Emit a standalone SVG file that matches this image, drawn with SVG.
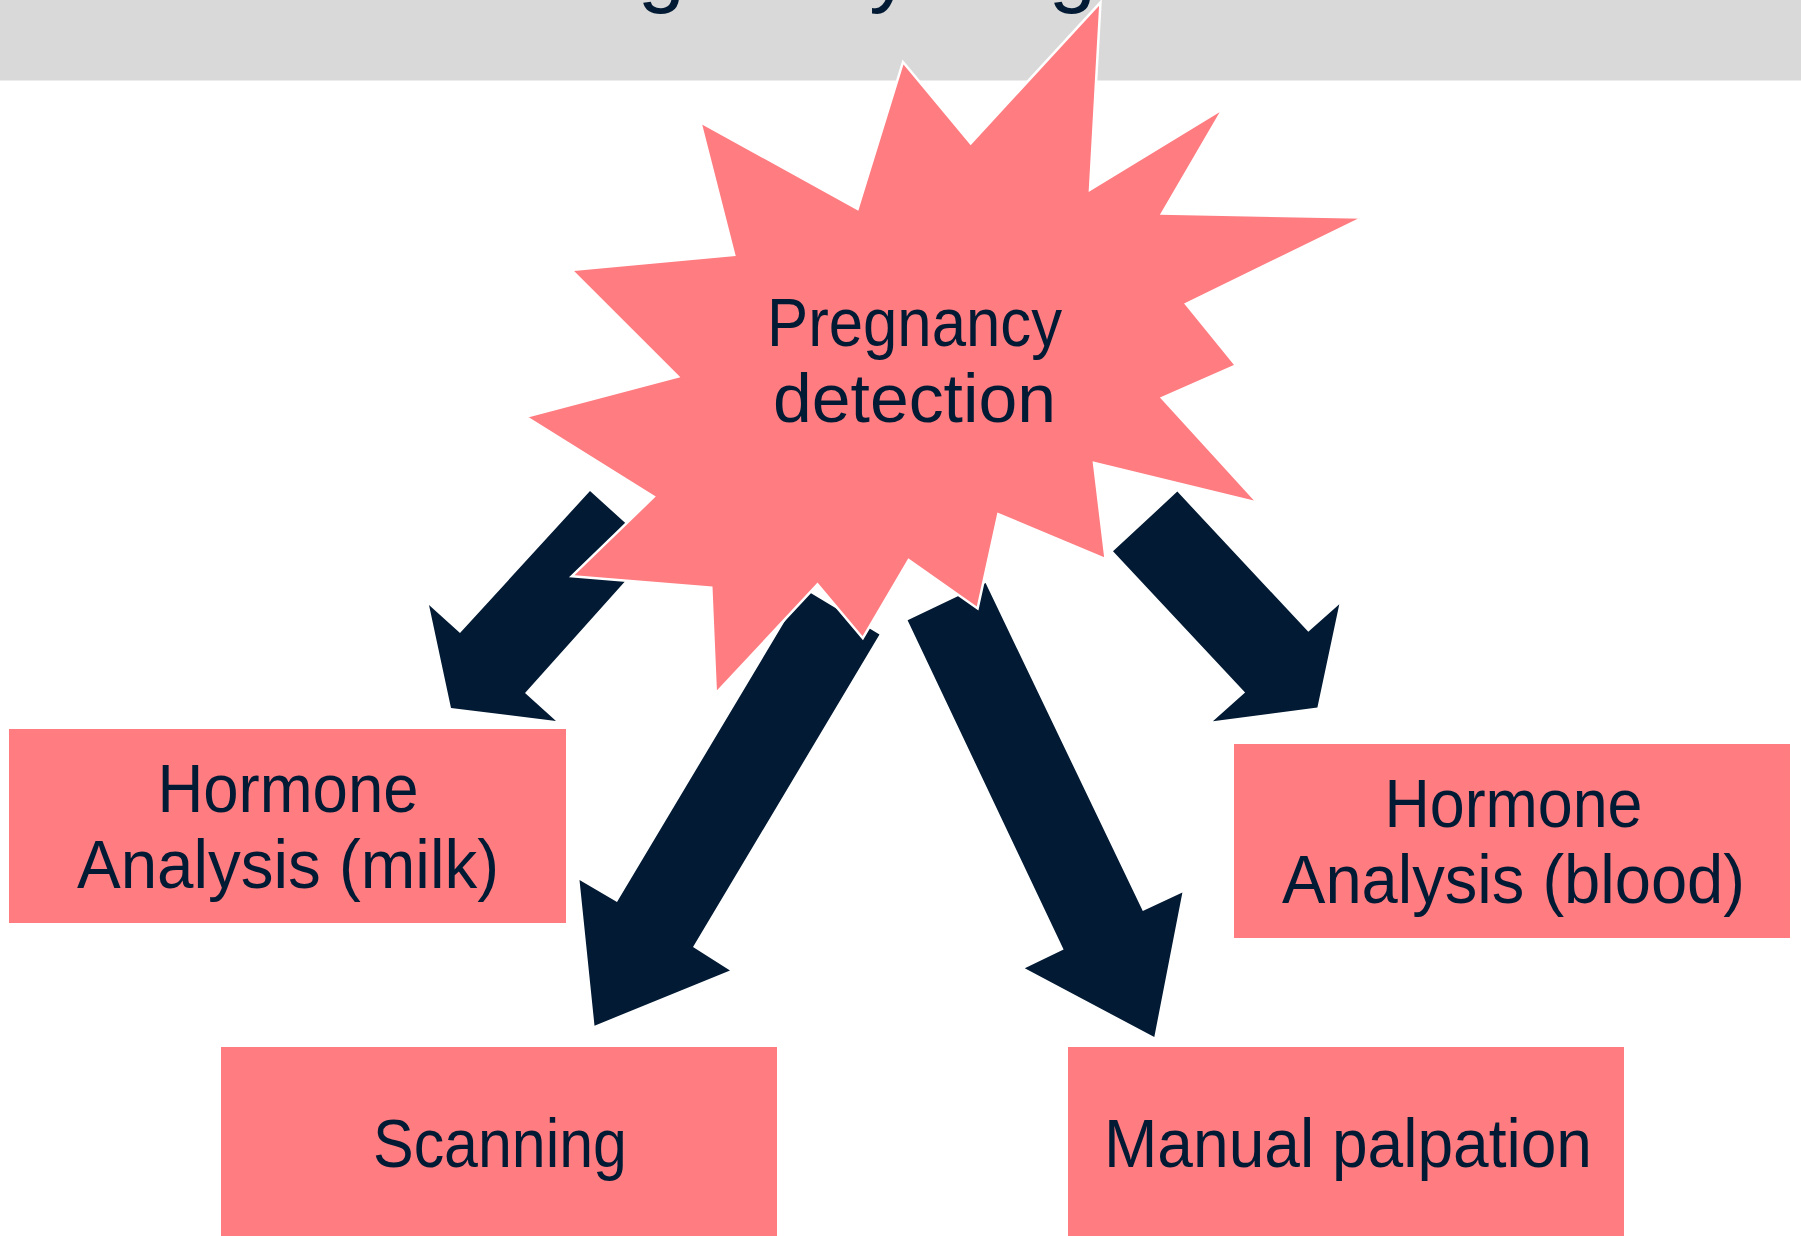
<svg xmlns="http://www.w3.org/2000/svg" width="1801" height="1236" viewBox="0 0 1801 1236">
<style>
.box{fill:#ff7c80}
.arrow{fill:#021a33}
.lbl{font-family:"Liberation Sans",Arial,sans-serif;font-size:68px;fill:#021a33;text-anchor:middle}
.title{font-family:"Liberation Sans",Arial,sans-serif;font-size:85px;fill:#021a33;text-anchor:middle}
</style>
<rect width="1801" height="1236" fill="#ffffff"/>
<g id="header">
<rect x="0" y="0" width="1801" height="80.5" fill="#d9d9d9"/>
<text class="title" x="900" y="-4">Pregnancy diagnosis</text>
</g>
<g id="connectors">
<polygon class="arrow" points="590,491 654,549 525,693 556,721 451,708 429,605 460,633"/>
<polygon class="arrow" points="804,589 879.5,634.6 693,947 730,970.5 594.5,1025.7 579.5,880 617,902"/>
<polygon class="arrow" points="907.6,620.3 985.6,583.1 1142.8,911 1182.4,892.5 1154.3,1037 1024.8,968.3 1063.6,949.5"/>
<polygon class="arrow" points="1113,551.3 1177.3,491.6 1308.3,631.7 1339.3,604.2 1317.4,707.5 1212.9,721.3 1245.1,692.6"/>
</g>
<g id="node-pregnancy-detection">
<polygon points="903,62 970.7,143.3 1100.5,2.3 1090,189.6 1223,108.8 1162,213.5 1362.8,217.6 1186,304 1236,365.5 1162,398 1257.8,502.8 1094,462.8 1105.6,559.2 998.3,514.2 977.6,608.4 908.7,560 862.8,638.2 817.5,584.5 715.8,693.3 711.3,587.7 571.8,576.2 653.8,496.8 525.8,416.9 678,376.5 571.2,270 734.2,254.8 700.3,122.1 857.6,208.9" fill="#ff7c80" stroke="#ffffff" stroke-width="2.5" stroke-linejoin="miter"/>
<text class="lbl" x="914.5" y="346" textLength="295" lengthAdjust="spacingAndGlyphs">Pregnancy</text>
<text class="lbl" x="914.5" y="422" textLength="283" lengthAdjust="spacingAndGlyphs">detection</text>
</g>
<g id="node-hormone-milk">
<rect class="box" x="9" y="729" width="557" height="194"/>
<text class="lbl" x="288" y="812" textLength="261" lengthAdjust="spacingAndGlyphs">Hormone</text>
<text class="lbl" x="288" y="888" textLength="422" lengthAdjust="spacingAndGlyphs">Analysis (milk)</text>
</g>
<g id="node-hormone-blood">
<rect class="box" x="1234" y="744" width="556" height="194"/>
<text class="lbl" x="1513.5" y="827" textLength="258" lengthAdjust="spacingAndGlyphs">Hormone</text>
<text class="lbl" x="1513.5" y="903" textLength="463" lengthAdjust="spacingAndGlyphs">Analysis (blood)</text>
</g>
<g id="node-scanning">
<rect class="box" x="221" y="1047" width="556" height="195"/>
<text class="lbl" x="500" y="1167" textLength="254" lengthAdjust="spacingAndGlyphs">Scanning</text>
</g>
<g id="node-manual-palpation">
<rect class="box" x="1068" y="1047" width="556" height="195"/>
<text class="lbl" x="1348" y="1167" textLength="488" lengthAdjust="spacingAndGlyphs">Manual palpation</text>
</g>
</svg>
